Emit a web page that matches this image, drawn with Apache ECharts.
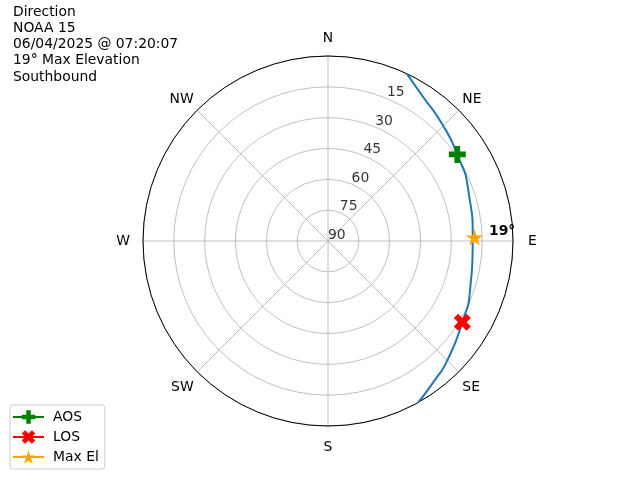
<!DOCTYPE html>
<html>
<head>
<meta charset="utf-8">
<script src="https://cdn.jsdelivr.net/npm/echarts@6/dist/echarts.min.js"></script>
<style>html,body{margin:0;padding:0;background:#fff}#c{width:640px;height:480px}</style>
</head>
<body>
<div id="c"></div>
<script>
// ---- data ----
const titleLines = ['Direction', 'NOAA 15', '06/04/2025 @ 07:20:07', '19\u00b0 Max Elevation', 'Southbound'];
const directionLabels = ['N', 'NE', 'E', 'SE', 'S', 'SW', 'W', 'NW'];
const radialTicks = [15, 30, 45, 60, 75, 90];
const radialLabelAzimuth = 22.5;
// pass track (azimuth deg, elevation deg)
const trackAzimuth   = [25.2, 32.7, 44.3, 56.2, 70.0, 90.0, 109.0, 121.2, 135.2, 142.4, 150.8];
const trackElevation = [0.0,  5.6,  10.5, 14.3, 17.4, 19.6, 16.9,  13.6,  7.8,   4.7,   0.0];
const aosPoint   = { az: 56.2, el: 14.3 };
const losPoint   = { az: 121.2, el: 13.6 };
const maxElPoint = { az: 88.6, el: 18.7 };
const maxElLabel = '19\u00b0';

// ---- chart ----
const FONT = 'DejaVu Sans';
const FS = 13.9;
const plusPath = 'path://M2,0H4V2H6V4H4V6H2V4H0V2H2Z';
const xPath = 'path://M424,0L566,141L424,283L566,424L424,566L283,424L141,566L0,424L141,283L0,141L141,0L283,141Z';
const starPath = 'path://M100,0L122.45,69.1L195.1,69.1L136.33,111.8L158.78,180.9L100,138.2L41.22,180.9L63.67,111.8L4.9,69.1L77.55,69.1Z';

const trackData = trackAzimuth.map((a, i) => [trackElevation[i], a]);

const chart = echarts.init(document.getElementById('c'), null, { renderer: 'canvas' });
chart.setOption({
  animation: false,
  backgroundColor: '#ffffff',
  textStyle: { fontFamily: FONT },
  title: {
    text: titleLines.join('\n'),
    left: 13, top: 4, padding: 0,
    textStyle: { fontFamily: FONT, fontSize: FS, fontWeight: 'normal', color: '#000', lineHeight: 16.25 }
  },
  legend: {
    orient: 'vertical',
    left: 10, top: 405,
    padding: [5, 6, 5, 2],
    itemWidth: 31, itemHeight: 17, itemGap: 6,
    backgroundColor: '#fff',
    borderColor: '#cccccc', borderWidth: 1, borderRadius: 3,
    textStyle: { fontFamily: FONT, fontSize: FS, color: '#000', padding: [0, 0, 0, 4] },
    data: ['AOS', 'LOS', 'Max El']
  },
  polar: { center: [328, 241], radius: 185 },
  angleAxis: {
    type: 'value', min: 0, max: 360, interval: 45,
    startAngle: 90, clockwise: true,
    axisLine: { show: true, lineStyle: { color: '#000', width: 1 } },
    axisTick: { show: false },
    splitLine: { show: true, lineStyle: { color: '#b0b0b0', width: 0.8 } },
    axisLabel: {
      margin: 5,
      fontFamily: FONT, fontSize: FS, color: '#000',
      formatter: function (v) {
        if (v >= 360) return '';
        const idx = Math.round(v / 45);
        const n = directionLabels[idx];
        const key = ['c0', 'd', 'c2', 'dd', 'c4', 'dd', 'c6', 'd'][idx];
        return '{' + key + '|' + n + '}';
      },
      rich: {
        c0: { fontFamily: FONT, fontSize: FS, color: '#000', padding: [0, 0, 6, 0] },
        c2: { fontFamily: FONT, fontSize: FS, color: '#000', padding: [0, 0, 0, 10] },
        c4: { fontFamily: FONT, fontSize: FS, color: '#000', padding: [9, 0, 0, 0] },
        c6: { fontFamily: FONT, fontSize: FS, color: '#000', padding: [0, 8, 0, 0] },
        d:  { fontFamily: FONT, fontSize: FS, color: '#000' },
        dd: { fontFamily: FONT, fontSize: FS, color: '#000', padding: [5, 0, 0, 0] }
      }
    }
  },
  radiusAxis: {
    type: 'value', min: 0, max: 90, interval: 15, inverse: true,
    axisLine: { show: false },
    axisTick: { show: false },
    axisLabel: { show: false },
    splitLine: { show: true, lineStyle: { color: '#b0b0b0', width: 0.8 } }
  },
  series: [
    {
      name: 'ticks', type: 'scatter', coordinateSystem: 'polar',
      symbolSize: 0, silent: true, z: 1,
      data: radialTicks.map(t => [t, radialLabelAzimuth]),
      label: {
        show: true, position: 'right', distance: 0, offset: [0, -6],
        formatter: p => String(p.value[0]),
        fontFamily: FONT, fontSize: FS, color: '#000'
      }
    },
    {
      name: 'track', type: 'line', coordinateSystem: 'polar',
      data: trackData, smooth: 0.6, showSymbol: false, symbol: 'none',
      lineStyle: { color: '#1f77b4', width: 2 }, z: 2
    },
    {
      name: 'AOS', type: 'line', coordinateSystem: 'polar',
      data: [[aosPoint.el, aosPoint.az]],
      symbol: plusPath, symbolSize: 17, showSymbol: true,
      itemStyle: { color: '#008000' }, lineStyle: { color: '#008000', width: 2 }, z: 3
    },
    {
      name: 'LOS', type: 'line', coordinateSystem: 'polar',
      data: [[losPoint.el, losPoint.az]],
      symbol: xPath, symbolSize: 17, showSymbol: true,
      itemStyle: { color: '#ff0000' }, lineStyle: { color: '#ff0000', width: 2 }, z: 3
    },
    {
      name: 'Max El', type: 'line', coordinateSystem: 'polar',
      data: [[maxElPoint.el, maxElPoint.az]],
      symbol: starPath, symbolSize: 17, symbolKeepAspect: true, showSymbol: true,
      itemStyle: { color: '#ffa500' }, lineStyle: { color: '#ffa500', width: 2 }, z: 3,
      label: {
        show: true, position: 'right', distance: 6, offset: [0, -6],
        formatter: maxElLabel,
        fontFamily: FONT, fontSize: FS, fontWeight: 'bold', color: '#000'
      }
    }
  ]
});
</script>
</body>
</html>
